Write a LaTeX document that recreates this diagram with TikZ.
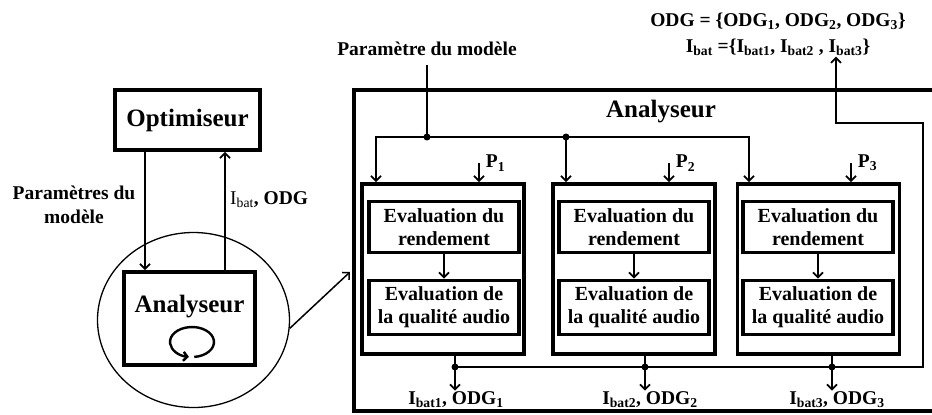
\documentclass[tikz,border=0pt]{standalone}
\usepackage{fontspec}
\setmainfont{Liberation Serif}
\usetikzlibrary{positioning,shapes.geometric,arrows.meta}

\begin{document}
\begin{tikzpicture}[
    x=1pt, y=-1pt,
    >={Straight Barb[length=5pt,width=10pt]},
    node distance=80.5pt,
    block/.style={rectangle, draw, line width=3.8pt},
    title/.style={inner sep=0pt, font=\fontsize{25}{28}\selectfont\bfseries},
    stage/.style={rectangle, draw, line width=3.8pt, minimum width=162pt, minimum height=170pt},
    evalbox/.style={rectangle, draw, line width=3.6pt, minimum width=150pt, minimum height=51pt, inner sep=0pt, align=center, font=\fontsize{20}{23}\selectfont\bfseries},
    lab/.style={align=center, inner sep=1pt, font=\fontsize{19.5}{24}\selectfont\bfseries},
    arrow/.style={->, line width=1.8pt},
    dot/.style={circle, fill, inner sep=0pt, minimum size=7pt}
]
    \useasboundingbox (0,0) rectangle (932,415);

    % optimisation loop
    \node[block, title, minimum width=145pt, minimum height=60pt] (opt) at (187.5,120) {Optimiseur};
    \node[block, minimum width=131pt, minimum height=93pt] (ana) at (189.5,318.5) {};
    \node[title] (anatxt) at (189.5,307) {Analyseur};
    \coordinate (loop) at (192,342);
    \draw[line width=2.4pt, -{Straight Barb[length=4pt,width=9pt]}] ([shift={(-84:22pt and 15pt)}]loop) arc[start angle=-84, end angle=262, x radius=22pt, y radius=15pt];
    \node[ellipse, draw, line width=1.3pt, minimum width=192pt, minimum height=175pt] (zoom) at (193.5,320) {};

    \draw[arrow] ([xshift=-42.5pt]opt.south) -- ([xshift=-42.5pt]opt.south |- ana.north);
    \draw[arrow] ([xshift=37.5pt]opt.south |- ana.north) -- ([xshift=37.5pt]opt.south);
    \node[lab] (par) at (74,205) {Paramètres du\\modèle};
    \node[lab, anchor=west] (ibat) at (229,200) {{\mdseries I\textsubscript{bat}}, ODG};

    % zoom on the analyser
    \coordinate (zin) at (350,272);
    \draw[->, line width=1.5pt] (zoom.-5) -- (zin);

    \node[block, minimum width=600pt, minimum height=321pt] (big) at (654,250.5) {};
    \node[title] (bigtxt) at (661,112) {Analyseur};

    \node[stage] (s1) at (443,269) {};
    \node[stage, right of=s1, node distance=191pt] (s2) {};
    \node[stage, right of=s2, node distance=184.5pt] (s3) {};

    \node[evalbox] (r1) at (444,227) {Evaluation du\\rendement};
    \node[evalbox, below of=r1, minimum height=54pt] (q1) {Evaluation de\\la qualité audio};
    \node[evalbox] (r2) at (634,227) {Evaluation du\\rendement};
    \node[evalbox, below of=r2, minimum height=54pt] (q2) {Evaluation de\\la qualité audio};
    \node[evalbox] (r3) at (818,227) {Evaluation du\\rendement};
    \node[evalbox, below of=r3, minimum height=54pt] (q3) {Evaluation de\\la qualité audio};

    \draw[arrow] (r1) -- (q1);
    \draw[arrow] (r2) -- (q2);
    \draw[arrow] (r3) -- (q3);

    % model parameters in
    \node[lab] (pm) at (427,49) {Paramètre du modèle};
    \coordinate (j1) at (427,137);
    \coordinate (j2) at (566,137);
    \draw[line width=1.8pt] ([yshift=-8pt]pm.south) -- (j1);
    \draw[arrow] (j1) -| ([xshift=-67pt]s1.north);
    \draw[arrow] (j1) -- (j2) -| ([xshift=-69.5pt]s3.north);
    \draw[arrow] (j2) -- (j2 |- s2.north);
    \node[dot] (dj1) at (j1) {};
    \node[dot] (dj2) at (j2) {};

    \draw[arrow] ([xshift=36pt,yshift=19pt]s1.north) node[lab, anchor=west, xshift=5pt] (p1) {P\textsubscript{1}} -- ([xshift=36pt]s1.north);
    \draw[arrow] ([xshift=35pt,yshift=19pt]s2.north) node[lab, anchor=west, xshift=5pt] (p2) {P\textsubscript{2}} -- ([xshift=35pt]s2.north);
    \draw[arrow] ([xshift=32.5pt,yshift=19pt]s3.north) node[lab, anchor=west, xshift=5pt] (p3) {P\textsubscript{3}} -- ([xshift=32.5pt]s3.north);

    % results out
    \coordinate (o1) at (455,367);
    \coordinate (o2) at (645,367);
    \coordinate (o3) at (832,367);
    \coordinate (rc) at (923,367);
    \coordinate (up) at (836,123);
    \node[lab] (l1) at (456,400) {I\textsubscript{bat1}, ODG\textsubscript{1}};
    \node[lab] (l2) at (650,400) {I\textsubscript{bat2}, ODG\textsubscript{2}};
    \node[lab] (l3) at (837,400) {I\textsubscript{bat3}, ODG\textsubscript{3}};
    \node[lab, font=\fontsize{19.5}{26}\selectfont\bfseries] (odg) at (778,34) {ODG = \{ODG\textsubscript{1}, ODG\textsubscript{2}, ODG\textsubscript{3}\}\\I\textsubscript{bat} =\{I\textsubscript{bat1}, I\textsubscript{bat2} , I\textsubscript{bat3}\}};

    \draw[arrow] (s1.south -| o1) -- (l1.north -| o1);
    \draw[arrow] (s2.south -| o2) -- (l2.north -| o2);
    \draw[arrow] (s3.south -| o3) -- (l3.north -| o3);
    \draw[arrow] (o1) -- (rc) |- (up) -- (up |- odg.south);
    \node[dot] (do1) at (o1) {};
    \node[dot] (do2) at (o2) {};
    \node[dot] (do3) at (o3) {};
\end{tikzpicture}
\end{document}
